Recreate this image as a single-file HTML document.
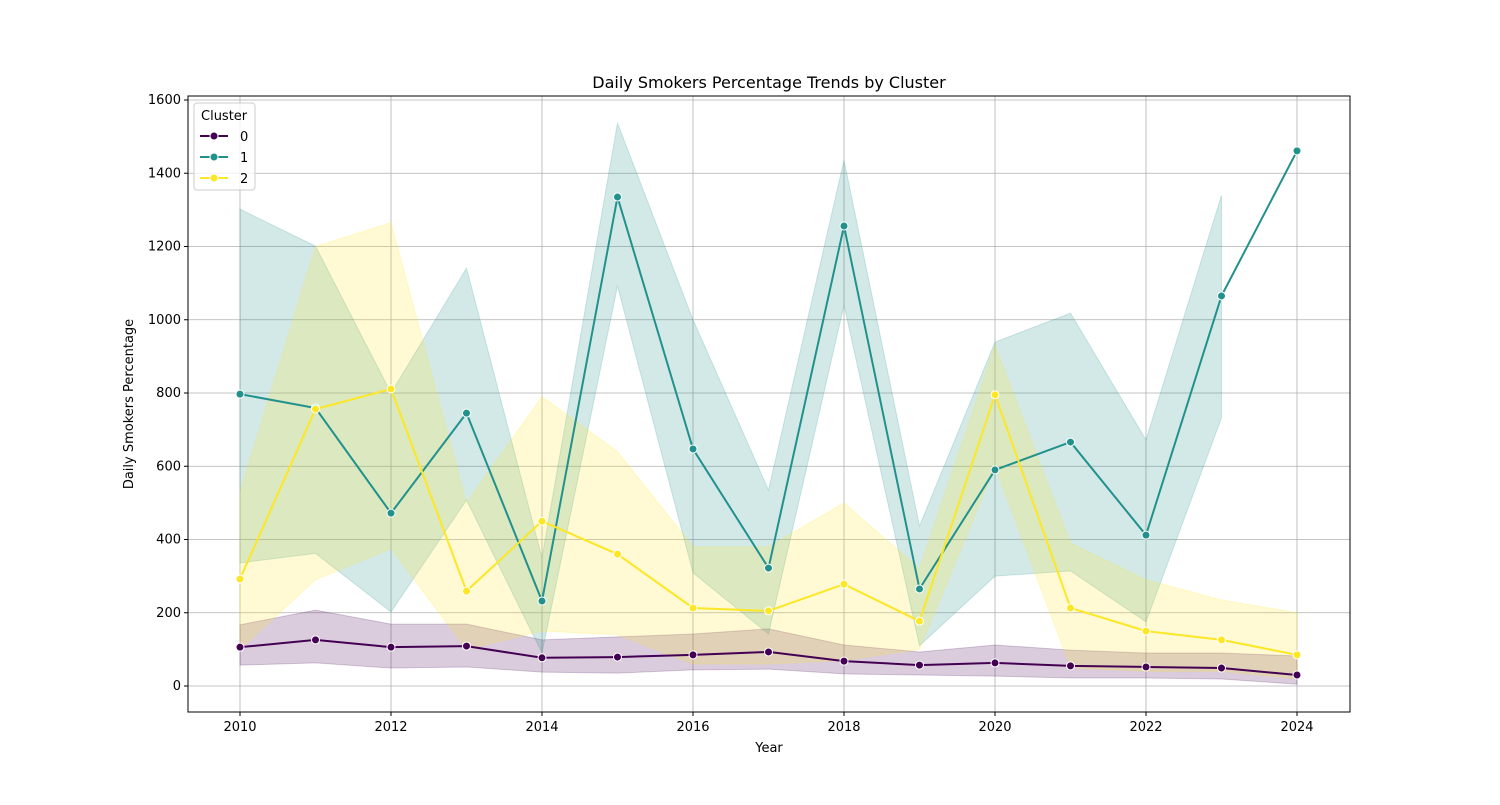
<!DOCTYPE html>
<html><head><meta charset="utf-8"><style>
body{margin:0;background:#fff;font-family:"Liberation Sans","DejaVu Sans",sans-serif;}
svg text{font-family:"DejaVu Sans","Liberation Sans",sans-serif;}
</style></head><body>
<svg id="chart" width="1500" height="800" xmlns="http://www.w3.org/2000/svg"></svg>
<script>
const years=[2010,2011,2012,2013,2014,2015,2016,2017,2018,2019,2020,2021,2022,2023,2024];
const c0=[106,126,106,109,77,79,85,93,68,57,63,55,52,49,30];
const c0lo=[57,63,49,52,38,35,44,46,33,30,27,22,22,19,5];
const c0hi=[167,207,169,169,126,134,142,156,112,93,112,98,90,90,82];
const c1=[797,759,472,745,232,1335,647,322,1256,265,590,666,412,1065,1461];
const c1lo=[336,362,202,508,90,1092,309,142,1040,110,300,314,175,732,null];
const c1hi=[1302,1201,800,1141,350,1537,1000,535,1436,437,939,1018,672,1340,null];
const c2=[292,756,811,259,450,360,213,205,278,177,795,213,150,126,85];
const c2lo=[100,290,375,100,150,140,60,60,70,100,600,50,40,40,20];
const c2hi=[530,1200,1265,500,790,640,380,380,500,320,930,390,290,235,200];
const yTicks=[0,200,400,600,800,1000,1200,1400,1600];
const xTicks=[2010,2012,2014,2016,2018,2020,2022,2024];
const series=[{name:'0',v:c0,lo:c0lo,hi:c0hi,col:'#440154'},{name:'1',v:c1,lo:c1lo,hi:c1hi,col:'#21918c'},{name:'2',v:c2,lo:c2lo,hi:c2hi,col:'#fde725'}];
const L=188,R=1350,T=96,B=712;
const X=y=>240+(y-2010)*(1297-240)/14;
const Y=v=>686-v*(686-100)/1600;
const svg=document.getElementById('chart');const NS='http://www.w3.org/2000/svg';
function mk(t,a,p){const e=document.createElementNS(NS,t);for(const k in a)e.setAttribute(k,a[k]);(p||svg).appendChild(e);return e;}
const grid=mk('g',{});


yTicks.forEach(t=>{mk('line',{x1:L,x2:R,y1:Y(t),y2:Y(t),stroke:'#b0b0b0','stroke-width':0.8},grid);
mk('line',{x1:L-4,x2:L,y1:Y(t),y2:Y(t),stroke:'#000'},grid);
const tx=mk('text',{x:L-7,y:Y(t)+4,'text-anchor':'end','font-size':13},grid);tx.textContent=t;

});
xTicks.forEach(t=>{mk('line',{x1:X(t),x2:X(t),y1:T,y2:B,stroke:'#b0b0b0','stroke-width':0.8},grid);
mk('line',{x1:X(t),x2:X(t),y1:B,y2:B+4,stroke:'#000'},grid);
const tx=mk('text',{x:X(t),y:B+19,'text-anchor':'middle','font-size':13},grid);tx.textContent=t;

});
series.forEach(s=>{
const idx=years.map((y,i)=>i).filter(i=>s.lo[i]!==null&&s.hi[i]!==null);
let d='M'+idx.map(i=>X(years[i])+','+Y(s.hi[i])).join('L')+'L'+idx.slice().reverse().map(i=>X(years[i])+','+Y(s.lo[i])).join('L')+'Z';
const band=mk('path',{d:d,fill:s.col,'fill-opacity':0.2,stroke:s.col,'stroke-opacity':0.2});

});
series.forEach(s=>{
const ln=mk('polyline',{points:years.map((y,i)=>X(y)+','+Y(s.v[i])).join(' '),fill:'none',stroke:s.col,'stroke-width':2});


years.forEach((y,i)=>{const c=mk('circle',{cx:X(y),cy:Y(s.v[i]),r:4,fill:s.col,stroke:'#fff','stroke-width':1});

});});
const fr=mk('rect',{x:L,y:T,width:R-L,height:B-T,fill:'none',stroke:'#000','stroke-width':1});


const ti=mk('text',{x:(L+R)/2,y:88,'text-anchor':'middle','font-size':16});ti.textContent='Daily Smokers Percentage Trends by Cluster';


const xt=mk('text',{x:(L+R)/2,y:752,'text-anchor':'middle','font-size':13});xt.textContent='Year';


const yt=mk('text',{x:0,y:0,'text-anchor':'middle','font-size':13,transform:'translate(133,404) rotate(-90)'});yt.textContent='Daily Smokers Percentage';


const lg=mk('g',{});


mk('rect',{x:194,y:103,width:61,height:87,rx:3,fill:'#fff','fill-opacity':0.8,stroke:'#ccc'},lg);
const lt=mk('text',{x:201,y:120,'font-size':13},lg);lt.textContent='Cluster';
series.forEach((s,i)=>{const yy=136+i*21;
const e=mk('g',{},lg);


mk('line',{x1:200,x2:228,y1:yy,y2:yy,stroke:s.col,'stroke-width':2},e);
mk('circle',{cx:214,cy:yy,r:4,fill:s.col,stroke:'#fff'},e);
const t=mk('text',{x:240,y:yy+5,'font-size':13},e);t.textContent=s.name;});
</script>
</body></html>
